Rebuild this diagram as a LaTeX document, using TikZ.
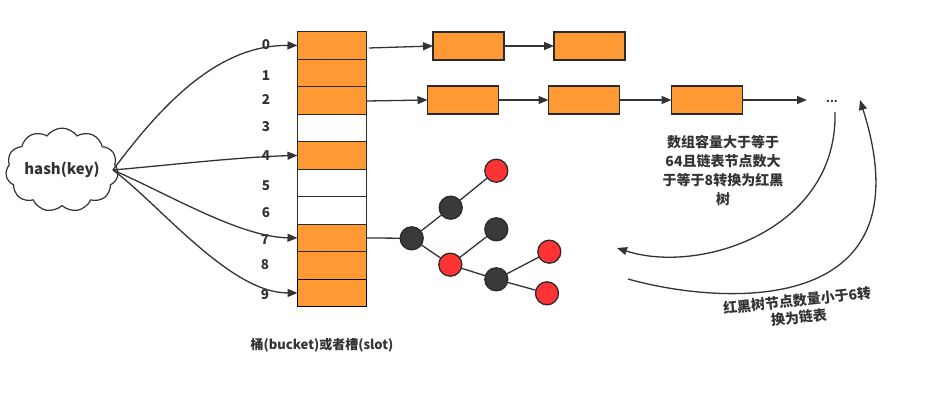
\documentclass[tikz,border=0pt]{standalone}
\usepackage{fontspec}
\setmainfont{Noto Sans CJK SC}
\usetikzlibrary{arrows.meta,shapes.symbols}
\definecolor{lc}{HTML}{333333}
\definecolor{bc}{HTML}{2A2A2A}
\definecolor{orf}{HTML}{FF9933}
\definecolor{dkf}{HTML}{3A3A3A}
\definecolor{rdf}{HTML}{FF3333}
\definecolor{tc}{HTML}{333333}
\begin{document}
\begin{tikzpicture}[x=1pt,y=-1pt,
  line/.style={draw=lc, line width=1.3pt},
  arr/.style={line, -{Triangle[length=10pt,width=8pt]}},
  cell/.style={draw=bc, line width=1.3pt, minimum width=69pt, minimum height=27.5pt, inner sep=0pt, outer sep=0pt},
  ocell/.style={cell, fill=orf},
  wcell/.style={cell, fill=white},
  lbox/.style={draw=bc, fill=orf, line width=1.3pt, minimum width=71pt, minimum height=28pt, inner sep=0pt, outer sep=0pt},
  idx/.style={text=tc, font=\fontsize{13.5pt}{15pt}\selectfont\bfseries, inner sep=0pt},
  tn/.style={circle, draw=bc, line width=1.3pt, minimum size=23pt, inner sep=0pt, outer sep=0pt},
  bn/.style={tn, fill=dkf},
  rn/.style={tn, fill=rdf},
  txt/.style={text=tc, font=\fontsize{14pt}{19pt}\selectfont\bfseries, align=center, inner sep=0pt}
]
\useasboundingbox (0,0) rectangle (927,398);

% hash cloud
\node[cloud, cloud puffs=11, cloud puff arc=110, aspect=1.5, draw=lc, line width=1.2pt, fill=white,
  minimum width=103pt, minimum height=76pt, inner sep=0pt, outer sep=0pt,
  text=tc, font=\fontsize{15pt}{17pt}\selectfont\bfseries] (hash) at (62,170) {hash(key)};
\coordinate (hs) at (113,170);

% array cells
\node[ocell] (c0) at (332,45.45) {};
\node[ocell] (c1) at (332,72.95) {};
\node[ocell] (c2) at (332,100.45) {};
\node[wcell] (c3) at (332,127.95) {};
\node[ocell] (c4) at (332,155.45) {};
\node[wcell] (c5) at (332,182.95) {};
\node[wcell] (c6) at (332,210.45) {};
\node[ocell] (c7) at (332,237.95) {};
\node[ocell] (c8) at (332,265.45) {};
\node[ocell, draw=black] (c9) at (332,292.95) {};

% index labels
\node[idx] (i0) at (266,45) {0};
\node[idx] (i1) at (266,76) {1};
\node[idx] (i2) at (266,100) {2};
\node[idx] (i3) at (266,127) {3};
\node[idx] (i4) at (266,156) {4};
\node[idx] (i5) at (266,186) {5};
\node[idx] (i6) at (266,213) {6};
\node[idx] (i7) at (265,240) {7};
\node[idx] (i8) at (265,265) {8};
\node[idx] (i9) at (265,295) {9};

% hash arrows
\draw[arr] (hs) .. controls (165,100) and (220,45) .. (c0.west);
\draw[arr] (hs) .. controls (170,165) and (240,157) .. (c4.west);
\draw[arr] (hs) .. controls (170,195) and (240,237) .. (c7.west);
\draw[arr] (hs) .. controls (160,205) and (230,293) .. (c9.west);

% chains
\node[lbox] (a1) at (468.5,46) {};
\node[lbox] (a2) at (589.5,46) {};
\node[lbox] (b1) at (463,100) {};
\node[lbox] (b2) at (584,100) {};
\node[lbox] (b3) at (707,100) {};
\node[text=tc, font=\fontsize{11pt}{12pt}\selectfont\bfseries, inner sep=0pt] (dots) at (832,101) {...};
\coordinate (dend) at (807,100);
\coordinate (c0o) at (369,48);
\coordinate (c2o) at (367,101);

\draw[arr] (c0o) -- (a1.west);
\draw[arr] (a1) -- (a2);
\draw[arr] (c2o) -- (b1.west);
\draw[arr] (b1) -- (b2);
\draw[arr] (b2) -- (b3);
\draw[arr] (b3) -- (dend);

% red-black tree
\node[bn] (t0) at (411.7,238.3) {};
\node[bn] (t1) at (450.7,207.7) {};
\node[rn] (t2) at (496.3,170.7) {};
\node[rn] (t3) at (450.3,264.7) {};
\node[bn] (t4) at (496.3,229.3) {};
\node[bn] (t5) at (496.3,279.3) {};
\node[rn] (t6) at (549.3,251.7) {};
\node[rn] (t7) at (547,293.3) {};
\draw[line] (c7.east) -- (t0);
\draw[line] (t0) -- (t1);
\draw[line] (t1) -- (t2);
\draw[line] (t0) -- (t3);
\draw[line] (t3) -- (t4);
\draw[line] (t3) -- (t5);
\draw[line] (t5) -- (t6);
\draw[line] (t5) -- (t7);

% conversion arrows
\coordinate (p1s) at (835,112);
\coordinate (p1e) at (617,248);
\coordinate (p2s) at (628,279);
\coordinate (p2e) at (860,100);
\draw[arr] (p1s) .. controls (838,230) and (700,275) .. (p1e);
\draw[arr] (p2s) .. controls (720,305) and (930,320) .. (p2e);

% texts
\node[txt] (t8) at (723,171) {数组容量大于等于\\64且链表节点数大\\于等于8转换为红黑\\树};
\node[txt, font=\fontsize{14pt}{17pt}\selectfont\bfseries, rotate=6] (t9) at (798,309) {红黑树节点数量小于6转\\换为链表};
\node[text=tc, font=\fontsize{13pt}{15pt}\selectfont\bfseries, inner sep=0pt] (lab) at (322,345) {桶(bucket)或者槽(slot)};
\end{tikzpicture}
\end{document}
